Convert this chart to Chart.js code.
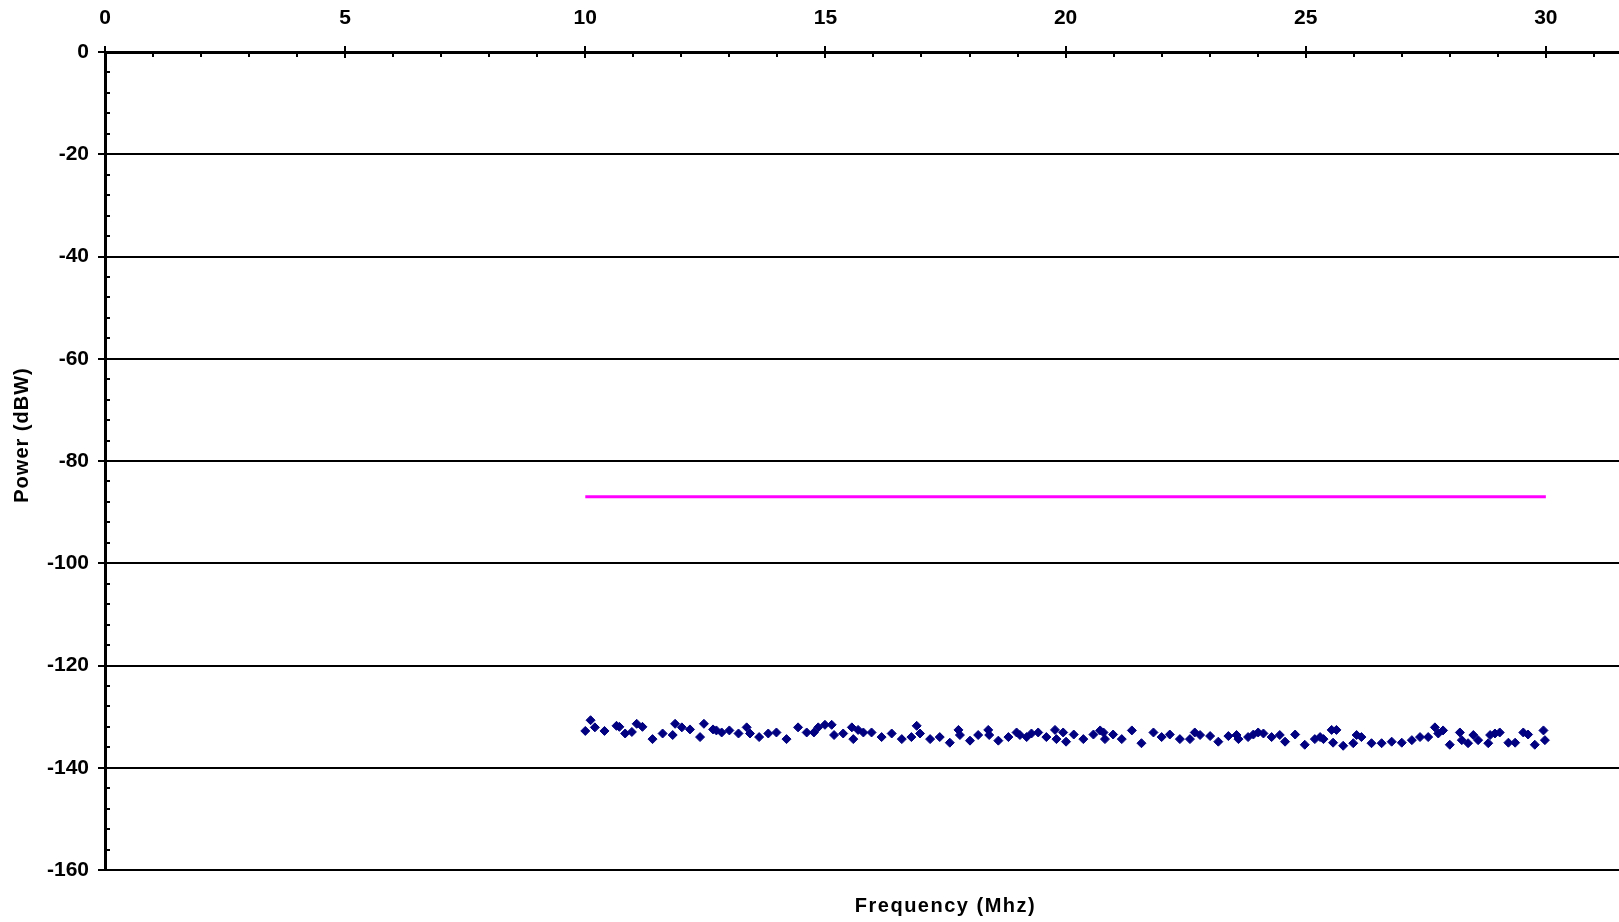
<!DOCTYPE html>
<html>
<head>
<meta charset="utf-8">
<script src="https://cdn.jsdelivr.net/npm/chart.js@4.4.1/dist/chart.umd.min.js"></script>
<style>
  html, body { margin: 0; padding: 0; background: #fff; overflow: hidden; }
</style>
</head>
<body>
<canvas id="spectrum" width="1800" height="922"></canvas>
<script>
// measured noise floor, 10-30 MHz
const freqMHz = [
  10.00, 10.11, 10.20, 10.40, 10.65, 10.71, 10.83, 10.97, 11.07, 11.19,
  11.40, 11.61, 11.82, 11.87, 12.01, 12.18, 12.39, 12.47, 12.66, 12.73,
  12.84, 13.00, 13.19, 13.36, 13.43, 13.62, 13.81, 13.98, 14.19, 14.43,
  14.61, 14.76, 14.85, 14.99, 15.13, 15.18, 15.37, 15.55, 15.58, 15.68,
  15.79, 15.96, 16.17, 16.38, 16.59, 16.79, 16.90, 16.97, 17.18, 17.38,
  17.59, 17.77, 17.80, 18.01, 18.18, 18.39, 18.41, 18.60, 18.81, 18.98,
  19.05, 19.19, 19.29, 19.43, 19.60, 19.78, 19.81, 19.95, 20.01, 20.17,
  20.37, 20.58, 20.72, 20.79, 20.82, 20.99, 21.17, 21.38, 21.58, 21.83,
  22.00, 22.17, 22.38, 22.59, 22.69, 22.80, 23.01, 23.18, 23.39, 23.56,
  23.60, 23.80, 23.91, 24.01, 24.12, 24.29, 24.46, 24.57, 24.78, 24.98,
  25.19, 25.30, 25.37, 25.54, 25.57, 25.64, 25.78, 25.99, 26.06, 26.16,
  26.37, 26.58, 26.79, 27.00, 27.21, 27.38, 27.55, 27.69, 27.76, 27.86,
  28.00, 28.21, 28.25, 28.38, 28.49, 28.59, 28.80, 28.84, 28.94, 29.04,
  29.22, 29.36, 29.53, 29.63, 29.77, 29.95, 29.98
];
const powerDBW = [
  -132.8, -130.7, -132.1, -132.8, -131.8, -132.0, -133.3, -133.0, -131.4, -132.0,
  -134.4, -133.3, -133.6, -131.4, -132.1, -132.5, -134.0, -131.4, -132.5, -132.7,
  -133.1, -132.7, -133.3, -132.1, -133.3, -134.0, -133.3, -133.1, -134.4, -132.1,
  -133.1, -133.1, -132.1, -131.6, -131.6, -133.6, -133.3, -132.1, -134.4, -132.6,
  -133.1, -133.1, -134.0, -133.3, -134.4, -134.0, -131.8, -133.3, -134.4, -134.0,
  -135.1, -132.6, -133.6, -134.7, -133.6, -132.6, -133.6, -134.7, -134.0, -133.1,
  -133.6, -134.0, -133.3, -133.1, -134.0, -132.6, -134.4, -133.1, -134.9, -133.5,
  -134.4, -133.5, -132.7, -133.1, -134.4, -133.5, -134.4, -132.7, -135.2, -133.1,
  -134.0, -133.5, -134.4, -134.4, -133.1, -133.6, -133.8, -134.9, -133.8, -133.6,
  -134.4, -134.0, -133.5, -133.1, -133.3, -134.0, -133.6, -134.9, -133.5, -135.5,
  -134.4, -134.0, -134.4, -132.6, -135.1, -132.6, -135.7, -135.2, -133.6, -134.0,
  -135.2, -135.2, -134.9, -135.1, -134.6, -134.0, -134.0, -132.1, -133.3, -132.7,
  -135.5, -133.1, -134.6, -135.2, -133.6, -134.6, -135.2, -133.6, -133.3, -133.1,
  -135.1, -135.1, -133.1, -133.5, -135.5, -132.7, -134.6
];

// limit line
const limitFreq = [10, 30];
const limitPower = [-87, -87];

// axis tick labels
const xTickLabels = [0, 5, 10, 15, 20, 25, 30];
const yTickLabels = [0, -20, -40, -60, -80, -100, -120, -140, -160];

const FONT = '"Liberation Sans", Arial, sans-serif';
Chart.defaults.font.family = FONT;
Chart.defaults.font.size = 21;
Chart.defaults.font.weight = 'bold';
Chart.defaults.color = '#000';

// minor + major tick marks like the old spreadsheet style
const tickMarks = {
  id: 'tickMarks',
  afterDraw(chart) {
    const { ctx, chartArea, scales: { x, y } } = chart;
    ctx.save();
    ctx.strokeStyle = '#000';
    ctx.lineWidth = 2;
    ctx.beginPath();
    for (let v = 0; v <= 35; v += 1) {
      const px = Math.round(x.getPixelForValue(v));
      const major = v % 5 === 0;
      ctx.moveTo(px, chartArea.top - (major ? 6 : 0));
      ctx.lineTo(px, chartArea.top + (major ? 6 : 5));
    }
    for (let v = -160; v <= 0; v += 4) {
      const py = Math.round(y.getPixelForValue(v));
      const major = v % 20 === 0;
      ctx.moveTo(chartArea.left - (major ? 7 : 0), py);
      ctx.lineTo(chartArea.left + (major ? 0 : 5), py);
    }
    ctx.stroke();
    ctx.restore();
  }
};

const axisTitles = {
  id: 'axisTitles',
  afterDraw(chart) {
    const { ctx, chartArea } = chart;
    ctx.save();
    ctx.fillStyle = '#000';
    ctx.font = 'bold 20px ' + FONT;
    ctx.textAlign = 'center';
    ctx.textBaseline = 'alphabetic';
    ctx.letterSpacing = '1.5px';
    ctx.fillText('Frequency (Mhz)', (chartArea.left + chartArea.right) / 2, 912);
    ctx.translate(28, 435);
    ctx.rotate(-Math.PI / 2);
    ctx.letterSpacing = '1px';
    ctx.fillText('Power (dBW)', 0, 0);
    ctx.restore();
  }
};

new Chart(document.getElementById('spectrum'), {
  type: 'scatter',
  data: {
    datasets: [
      {
        label: 'Limit',
        data: limitFreq.map((f, i) => ({ x: f, y: limitPower[i] })),
        showLine: true,
        borderColor: '#FF00FF',
        borderWidth: 3,
        pointRadius: 0
      },
      {
        label: 'Measured',
        data: freqMHz.map((f, i) => ({ x: f, y: powerDBW[i] })),
        pointStyle: 'rectRot',
        pointRadius: 4.5,
        borderWidth: 1,
        backgroundColor: '#000080',
        borderColor: '#000080'
      }
    ]
  },
  options: {
    responsive: false,
    animation: false,
    events: [],
    layout: { padding: { left: 0, right: 14, top: 0, bottom: 52 } },
    plugins: { legend: { display: false }, tooltip: { enabled: false } },
    scales: {
      x: {
        type: 'linear',
        position: 'top',
        min: 0,
        max: 35,
        afterBuildTicks: s => { s.ticks = xTickLabels.map(v => ({ value: v })); },
        afterFit: s => { s.height = 52; },
        ticks: { padding: 21, maxRotation: 0, autoSkip: false },
        grid: { display: false, drawTicks: false },
        border: { display: true, color: '#000', width: 3 }
      },
      y: {
        min: -160,
        max: 0,
        afterBuildTicks: s => { s.ticks = yTickLabels.map(v => ({ value: v })); },
        afterFit: s => { s.width = 105; },
        ticks: { padding: 16 },
        grid: { color: '#000', lineWidth: 2, drawTicks: false },
        border: { display: true, color: '#000', width: 3 }
      }
    }
  },
  plugins: [tickMarks, axisTitles]
});
</script>
</body>
</html>
